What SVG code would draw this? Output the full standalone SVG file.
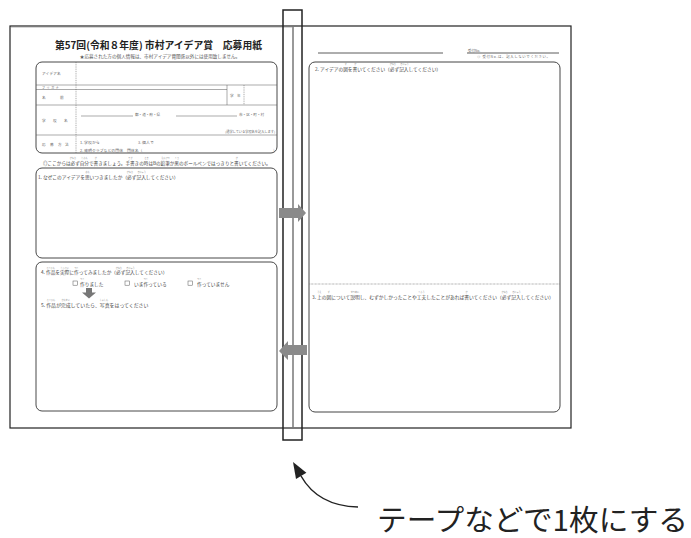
<svg xmlns="http://www.w3.org/2000/svg" width="691" height="538" viewBox="0 0 691 538">
<style>
text{font-family:'Noto Sans CJK JP','Noto Sans CJK SC',sans-serif}
.s{font-size:4.7px;fill:#444}
.rb{font-size:2.1px;fill:#777;text-anchor:middle}
.lb{font-size:3.6px;fill:#666}
.box{fill:none;stroke:#333;stroke-width:0.9}
.ln{stroke:#555;stroke-width:0.5;fill:none}
.dash{stroke:#555;stroke-width:0.5;stroke-dasharray:1 0.8;fill:none}
.garrow{fill:#8a8a8a}
</style>
<rect width="691" height="538" fill="#fff"/>

<g id="sheet">
  <rect x="10" y="26" width="561" height="402" fill="#fff" stroke="#222" stroke-width="1.2"/>
  <line x1="11" y1="27.5" x2="292" y2="27.5" stroke="#ccc" stroke-width="0.8"/>
  <line x1="293" y1="26" x2="293" y2="428" stroke="#777" stroke-width="1.5"/>
</g>

<g id="left-page">
  <text x="158.5" y="49" text-anchor="middle" textLength="207" lengthAdjust="spacing" style="font-size:9.8px;font-weight:bold;fill:#222">第57回(令和８年度) 市村アイデア賞　応募用紙</text>
  <text x="160" y="58" text-anchor="middle" style="font-size:4.6px;fill:#555">★応募された方の個人情報は、市村アイデア賞関係以外には使用致しません。</text>
</g>

<g id="entry-table">
  <rect class="box" x="36" y="62" width="241" height="91" rx="6"/>
  <line class="ln" x1="36" y1="85" x2="277" y2="85"/>
  <line class="ln" x1="36" y1="89.5" x2="227" y2="89.5"/>
  <line class="ln" x1="36" y1="105" x2="277" y2="105"/>
  <line class="ln" x1="36" y1="135" x2="277" y2="135"/>
  <line class="dash" x1="76" y1="62" x2="76" y2="153"/>
  <line class="ln" x1="227" y1="85" x2="227" y2="105"/>
  <line class="dash" x1="244" y1="85" x2="244" y2="105"/>
  <text class="lb" x="42" y="74.5" letter-spacing="0.2">アイデア名</text>
  <text class="lb" x="42" y="88.6" style="font-size:3px" letter-spacing="1.6">フリガナ</text>
  <text class="lb" x="42" y="98.5">名</text>
  <text class="lb" x="60" y="98.5">前</text>
  <text class="lb" x="230" y="96.5">学</text>
  <text class="lb" x="237" y="96.5">年</text>
  <text class="lb" x="42" y="121.5">学</text>
  <text class="lb" x="53" y="121.5">校</text>
  <text class="lb" x="64" y="121.5">名</text>
  <text class="lb" x="42" y="145.5">応</text>
  <text class="lb" x="50" y="145.5">募</text>
  <text class="lb" x="58" y="145.5">方</text>
  <text class="lb" x="65" y="145.5">法</text>
  <line class="ln" x1="81" y1="116" x2="133" y2="116"/>
  <text class="lb" x="135" y="116">都・道・府・県</text>
  <line class="ln" x1="176" y1="116" x2="237" y2="116"/>
  <text class="lb" x="239" y="116">市・区・町・村</text>
  <text class="lb" x="275" y="133" text-anchor="end" style="font-size:3.2px">(通学している学校名を記入します)</text>
  <text class="lb" x="80" y="143.5" style="font-size:3.9px">1. 学校から</text>
  <text class="lb" x="138" y="143.5" style="font-size:3.9px">3. 個人で</text>
  <text class="lb" x="80" y="151.5" style="font-size:3.9px">2. 発明クラブなどの団体　団体名（</text>
  <text class="lb" x="273" y="151.5" style="font-size:3.9px">）</text>
</g>

<g id="instruction">
  <text class="s" x="43" y="164.5" style="font-size:4.6px">◎ここからは必ず自分で書きましょう。手書きの時はBの鉛筆か黒のボールペンではっきりと書いてください。</text>
  <text class="rb" x="72.9" y="159">かなら</text>
  <text class="rb" x="84.4" y="159">じぶん</text>
  <text class="rb" x="95.9" y="159">か</text>
  <text class="rb" x="130.4" y="159">てが</text>
  <text class="rb" x="146.5" y="159">とき</text>
  <text class="rb" x="165.4" y="159">えんぴつ</text>
  <text class="rb" x="176.9" y="159">くろ</text>
  <text class="rb" x="236.7" y="159">か</text>
</g>

<g id="section-1">
  <rect class="box" x="36" y="168" width="241" height="90" rx="6"/>
  <text class="s" x="38" y="178.5">1. なぜこのアイデアを思いつきましたか（必ず記入してください）</text>
  <text class="rb" x="87.5" y="173">おも</text>
  <text class="rb" x="129.9" y="173">かなら</text>
  <text class="rb" x="141.6" y="173">きにゅう</text>
</g>

<g id="section-4-5">
  <rect class="box" x="36" y="262" width="241" height="149" rx="6"/>
  <text class="s" x="41" y="274">4. 作品を実際に作ってみましたか（必ず記入してください）</text>
  <text class="rb" x="50.6" y="268.5">さくひん</text>
  <text class="rb" x="64.7" y="268.5">じっさい</text>
  <text class="rb" x="76.5" y="268.5">つく</text>
  <text class="rb" x="118.8" y="268.5">かなら</text>
  <text class="rb" x="130.5" y="268.5">きにゅう</text>
  <rect x="73" y="281" width="4.6" height="4.2" fill="none" stroke="#555" stroke-width="0.5"/>
  <text class="s" x="80" y="285.5">作りました</text>
  <text class="rb" x="82.4" y="280">つく</text>
  <rect x="125" y="281" width="4.6" height="4.2" fill="none" stroke="#555" stroke-width="0.5"/>
  <text class="s" x="134" y="285.5">いま作っている</text>
  <text class="rb" x="145.8" y="280">つく</text>
  <rect x="188" y="281" width="4.6" height="4.2" fill="none" stroke="#555" stroke-width="0.5"/>
  <text class="s" x="197" y="285.5">作っていません</text>
  <text class="rb" x="199.4" y="280">つく</text>
  <polygon points="86,288 92,288 92,292.5 96,292.5 89,298.5 82,292.5 86,292.5" fill="#777"/>
  <text class="s" x="41" y="306.5" style="font-size:4.9px">5. 作品が完成していたら、写真をはってください</text>
  <text class="rb" x="51" y="300.8">さくひん</text>
  <text class="rb" x="65.6" y="300.8">かんせい</text>
  <text class="rb" x="103.9" y="300.8">しゃしん</text>
</g>

<g id="right-page">
  <line x1="318" y1="53" x2="443" y2="53" stroke="#333" stroke-width="0.8"/>
  <line x1="467" y1="53" x2="559" y2="53" stroke="#333" stroke-width="0.8"/>
  <text class="lb" x="468" y="51.5" style="font-size:3.4px">受付No.</text>
  <text class="lb" x="477" y="58" style="font-size:3.4px" textLength="73" lengthAdjust="spacing">◎ 受付No.は、記入しないでください。</text>
</g>

<g id="section-2-3">
  <rect x="309" y="62" width="251" height="350" rx="6" fill="none" stroke="#444" stroke-width="1"/>
  <text class="s" x="315" y="70.5">2. アイデアの図を書いてください（必ず記入してください）</text>
  <text class="rb" x="345.8" y="65">ず</text>
  <text class="rb" x="355.2" y="65">か</text>
  <text class="rb" x="392.8" y="65">かなら</text>
  <text class="rb" x="404.5" y="65">きにゅう</text>
  <line x1="309.5" y1="284" x2="559.5" y2="284" stroke="#555" stroke-width="0.6" stroke-dasharray="0.7 0.7"/>
  <text class="s" x="312" y="298.5" style="font-size:4.75px">3. 上の図について説明し、むずかしかったことや工夫したことがあれば書いてください（必ず記入してください）</text>
  <text class="rb" x="319.3" y="293">うえ</text>
  <text class="rb" x="328.8" y="293">ず</text>
  <text class="rb" x="354.9" y="293">せつめい</text>
  <text class="rb" x="421.4" y="293">くふう</text>
  <text class="rb" x="466.5" y="293">か</text>
  <text class="rb" x="504.5" y="293">かなら</text>
  <text class="rb" x="516.4" y="293">きにゅう</text>
</g>

<g id="tape">
  <rect x="283" y="10" width="19" height="430" fill="none" stroke="#222" stroke-width="1.5"/>
</g>

<g id="connectors">
  <polygon class="garrow" points="279,208 298,208 298,204 306,213 298,222 298,218 279,218"/>
  <polygon class="garrow" points="307,345 288,345 288,341 279,351 288,360 288,355 307,355"/>
  <path d="M358,507 Q318,506 301,476" fill="none" stroke="#222" stroke-width="1.5"/>
  <polygon points="293,462 306.4,472.7 296,478.9" fill="#222"/>
</g>

<g id="label">
  <text x="377" y="531" textLength="311" lengthAdjust="spacingAndGlyphs" style="font-size:29px;fill:#222">テープなどで1枚にする</text>
</g>
</svg>
